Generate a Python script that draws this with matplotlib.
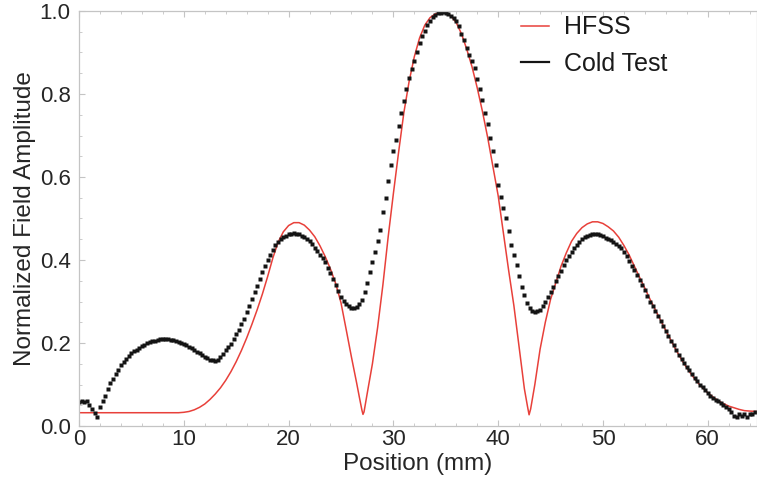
import matplotlib
import numpy as np

matplotlib.use("Agg")
import matplotlib.pyplot as plt
from matplotlib.ticker import MultipleLocator

plt.rcParams["font.family"] = ["Liberation Sans", "DejaVu Sans"]

# HFSS simulation (mm, normalized amplitude)
hfss_x = [0, 1, 2, 3, 4, 5, 6, 7, 8, 9, 9.5, 10, 10.5, 11, 11.5, 12, 12.5, 13,
          13.5, 14, 14.5, 15, 15.5, 16, 16.5, 17, 17.5, 18, 18.5, 19, 19.5, 20,
          20.5, 21, 21.5, 22, 22.5, 23, 23.5, 24, 24.5, 25, 25.5, 26, 26.5,
          26.75, 27.0, 27.1, 27.2, 27.5, 28.0, 28.5, 29.0, 29.5, 30.0, 30.5,
          31.0, 31.5, 32.0, 32.5, 33.0, 33.5, 34.0, 34.5, 35.0, 35.5, 36.0,
          36.5, 37.0, 37.5, 38.0, 38.5, 39.0, 39.5, 40.0, 40.5, 41.0, 41.5,
          42.0, 42.5, 42.8, 42.95, 43.1, 43.5, 44.0, 44.5, 45.0, 45.5, 46.0,
          46.5, 47.0, 47.5, 48.0, 48.5, 49.0, 49.5, 50.0, 50.5, 51.0, 51.5,
          52.0, 52.5, 53.0, 53.5, 54.0, 54.5, 55.0, 55.5, 56.0, 56.5, 57.0,
          57.5, 58.0, 58.5, 59.0, 59.5, 60.0, 60.5, 61.0, 61.5, 62.0, 62.5,
          63.0, 63.5, 64.0, 64.7]
hfss_y = [0.032, 0.032, 0.032, 0.032, 0.032, 0.032, 0.032, 0.032, 0.032, 0.032,
          0.032, 0.033, 0.035, 0.039, 0.045, 0.053, 0.064, 0.077, 0.092, 0.110,
          0.131, 0.155, 0.182, 0.212, 0.245, 0.280, 0.318, 0.360, 0.405, 0.443,
          0.468, 0.483, 0.490, 0.490, 0.484, 0.472, 0.456, 0.434, 0.408, 0.378,
          0.343, 0.297, 0.232, 0.166, 0.103, 0.070, 0.038, 0.028, 0.034, 0.078,
          0.150, 0.238, 0.340, 0.455, 0.560, 0.660, 0.755, 0.830, 0.890, 0.935,
          0.966, 0.984, 0.993, 0.996, 0.995, 0.988, 0.972, 0.945, 0.908, 0.866,
          0.815, 0.758, 0.695, 0.625, 0.555, 0.465, 0.375, 0.290, 0.190, 0.090,
          0.047, 0.027, 0.041, 0.100, 0.185, 0.250, 0.305, 0.345, 0.385, 0.417,
          0.445, 0.464, 0.478, 0.487, 0.492, 0.492, 0.488, 0.480, 0.470, 0.455,
          0.435, 0.412, 0.385, 0.358, 0.332, 0.305, 0.280, 0.255, 0.230, 0.206,
          0.182, 0.160, 0.140, 0.122, 0.106, 0.092, 0.080, 0.070, 0.061, 0.054,
          0.048, 0.044, 0.040, 0.037, 0.036, 0.035]

# cold test bead-pull, sampled every 0.25 mm from 0 mm
cold_step = 0.25
cold_y = [
    0.059, 0.060, 0.058, 0.060, 0.050, 0.040, 0.032, 0.022, 0.045, 0.060,
    0.072, 0.090, 0.103, 0.114, 0.125, 0.135, 0.146, 0.155, 0.162, 0.169,
    0.175, 0.180, 0.184, 0.188, 0.192, 0.196, 0.199, 0.202, 0.204, 0.206,
    0.208, 0.209, 0.210, 0.209, 0.209, 0.208, 0.207, 0.205, 0.202, 0.200,
    0.197, 0.194, 0.191, 0.187, 0.183, 0.179, 0.175, 0.171, 0.167, 0.163,
    0.160, 0.158, 0.157, 0.160, 0.166, 0.174, 0.182, 0.190, 0.198, 0.209,
    0.221, 0.232, 0.245, 0.259, 0.274, 0.290, 0.306, 0.322, 0.338, 0.354,
    0.370, 0.385, 0.400, 0.413, 0.425, 0.436, 0.444, 0.450, 0.455, 0.459,
    0.462, 0.463, 0.464, 0.463, 0.462, 0.459, 0.455, 0.451, 0.445, 0.438,
    0.430, 0.422, 0.413, 0.404, 0.394, 0.381, 0.368, 0.354, 0.340, 0.325,
    0.312, 0.302, 0.294, 0.289, 0.285, 0.284, 0.287, 0.294, 0.303, 0.322,
    0.345, 0.370, 0.396, 0.420, 0.445, 0.473, 0.515, 0.550, 0.590, 0.628,
    0.662, 0.690, 0.722, 0.754, 0.784, 0.813, 0.838, 0.860, 0.880, 0.902,
    0.922, 0.939, 0.953, 0.967, 0.977, 0.986, 0.991, 0.994, 0.996, 0.997,
    0.995, 0.993, 0.989, 0.984, 0.976, 0.963, 0.945, 0.929, 0.911, 0.895,
    0.880, 0.863, 0.837, 0.813, 0.785, 0.754, 0.727, 0.694, 0.663, 0.628,
    0.580, 0.552, 0.525, 0.500, 0.469, 0.437, 0.413, 0.389, 0.362, 0.335,
    0.315, 0.297, 0.284, 0.278, 0.275, 0.276, 0.280, 0.290, 0.300, 0.311,
    0.323, 0.336, 0.350, 0.362, 0.374, 0.388, 0.400, 0.410, 0.420, 0.428,
    0.436, 0.444, 0.450, 0.455, 0.458, 0.461, 0.462, 0.463, 0.462, 0.460,
    0.457, 0.454, 0.451, 0.448, 0.444, 0.439, 0.434, 0.428, 0.420, 0.410,
    0.398, 0.386, 0.375, 0.364, 0.352, 0.340, 0.327, 0.314, 0.300, 0.288,
    0.276, 0.264, 0.252, 0.240, 0.228, 0.216, 0.205, 0.194, 0.183, 0.172,
    0.162, 0.152, 0.143, 0.134, 0.125, 0.116, 0.108, 0.100, 0.093, 0.086,
    0.079, 0.073, 0.068, 0.063, 0.061, 0.056, 0.050, 0.045, 0.040, 0.033,
    0.024, 0.022, 0.030, 0.025, 0.028, 0.022, 0.030, 0.028, 0.033,
]
cold_x = np.arange(len(cold_y)) * cold_step

fig = plt.figure(figsize=(7.57, 4.86), dpi=100)
ax = fig.add_axes([79 / 757, 60 / 486, 1 - 79 / 757, 415 / 486])

ax.plot(hfss_x, hfss_y, color="#e8403a", lw=1.1, label="HFSS")
ax.plot(cold_x, cold_y, ls="none", marker="s", ms=2.8, mec="none",
        color="#141414", label="Cold Test")

ax.set_xlim(0, 64.7)
ax.set_ylim(0, 1.0)
ax.xaxis.set_major_locator(MultipleLocator(10))
ax.xaxis.set_minor_locator(MultipleLocator(2))
ax.yaxis.set_major_locator(MultipleLocator(0.2))
ax.yaxis.set_minor_locator(MultipleLocator(0.05))
ax.yaxis.set_major_formatter(matplotlib.ticker.FormatStrFormatter("%.1f"))

for side in ("left", "bottom", "top", "right"):
    ax.spines[side].set_color("#c4c4c4")
    ax.spines[side].set_linewidth(0.9)

ax.tick_params(which="both", direction="in", color="#c4c4c4", top=True)
ax.tick_params(which="major", length=4, labelsize=16, labelcolor="#262626")
ax.tick_params(which="minor", length=2)
ax.tick_params(axis="x", pad=2)
ax.tick_params(axis="y", pad=6)

ax.set_xlabel("Position (mm)", fontsize=17.5, color="#262626", labelpad=2)
ax.set_ylabel("Normalized Field Amplitude", fontsize=17.5, color="#262626",
              labelpad=3)

handles, labels = ax.get_legend_handles_labels()
handles[1] = matplotlib.lines.Line2D([], [], color="#141414", lw=1.6)
fig.legend(handles, labels, loc="upper left",
           bbox_to_anchor=(508 / 757, 1 - 3 / 486), frameon=False,
           fontsize=18, handlelength=1.15, handletextpad=0.6,
           labelspacing=0.5, borderpad=0, labelcolor="#1a1a1a")

fig.savefig("out.png", dpi=100)
plt.close(fig)
